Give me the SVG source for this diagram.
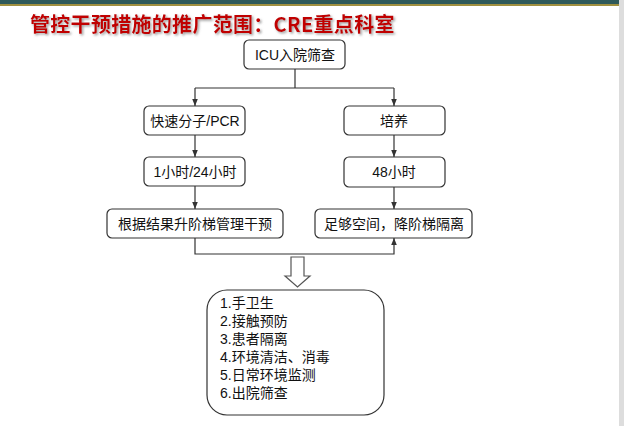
<svg xmlns="http://www.w3.org/2000/svg" width="624" height="426" viewBox="0 0 624 426">
<defs>
<style>
.b{fill:#fff;stroke:#333;stroke-width:1.2}
.t{font-family:"Liberation Sans","Noto Sans CJK SC",sans-serif;font-size:14px;fill:#111;text-anchor:middle}
.c{fill:none;stroke:#333;stroke-width:1.2}
</style>
<marker id="a" viewBox="0 0 10 10" refX="10" refY="5" markerWidth="6" markerHeight="6" orient="auto"><path d="M0,1L10,5L0,9z" fill="#333"/></marker>
<filter id="sh" x="-5%" y="-20%" width="110%" height="150%"><feDropShadow dx="1.5" dy="1.5" stdDeviation="0.8" flood-color="#888" flood-opacity="0.8"/></filter>
</defs>
<rect width="624" height="426" fill="#fff"/>
<rect width="624" height="4" fill="#2f5a5a"/>
<rect y="4" width="624" height="2" fill="#a09040"/>
<rect x="619" y="0" width="5" height="426" fill="#ddd"/>
<text x="30" y="32" font-family="'Noto Sans CJK SC',sans-serif" font-weight="bold" font-size="20" fill="#c00000" letter-spacing="0.3" filter="url(#sh)">管控干预措施的推广范围：CRE重点科室</text>
<g id="connectors">
<path class="c" d="M295,69V88"/>
<path class="c" d="M195,88H394"/>
<path class="c" d="M195,88V106" marker-end="url(#a)"/>
<path class="c" d="M394,88V106" marker-end="url(#a)"/>
<path class="c" d="M195,135V157" marker-end="url(#a)"/>
<path class="c" d="M394,135V157" marker-end="url(#a)"/>
<path class="c" d="M195,186V209" marker-end="url(#a)"/>
<path class="c" d="M394,187V209" marker-end="url(#a)"/>
<path class="c" d="M195,238V254H394V238" marker-end="url(#a)"/>
<path d="M291,257H304V276H310L297.5,287L285,276H291Z" fill="#fff" stroke="#555" stroke-width="1.2"/>
</g>
<g id="icu"><rect class="b" x="244" y="40" width="101" height="29" rx="5"/><text class="t" x="295" y="60">ICU入院筛查</text></g>
<g id="pcr"><rect class="b" x="144" y="106" width="101" height="29" rx="5"/><text class="t" x="195" y="126">快速分子/PCR</text></g>
<g id="culture"><rect class="b" x="344" y="106" width="101" height="29" rx="5"/><text class="t" x="394" y="126">培养</text></g>
<g id="h1"><rect class="b" x="144" y="157" width="101" height="29" rx="5"/><text class="t" x="195" y="177">1小时/24小时</text></g>
<g id="h48"><rect class="b" x="344" y="157" width="101" height="30" rx="5"/><text class="t" x="394" y="177">48小时</text></g>
<g id="up"><rect class="b" x="107" y="209" width="176" height="29" rx="5"/><text class="t" x="195" y="229">根据结果升阶梯管理干预</text></g>
<g id="down"><rect class="b" x="315" y="209" width="157" height="29" rx="5"/><text class="t" x="394" y="229">足够空间，降阶梯隔离</text></g>
<g id="measures"><rect class="b" x="207" y="290" width="177" height="125" rx="20"/>
<text font-family="'Liberation Sans','Noto Sans CJK SC',sans-serif" font-size="14" fill="#111">
<tspan x="220" y="308">1.手卫生</tspan><tspan x="220" y="326">2.接触预防</tspan><tspan x="220" y="344">3.患者隔离</tspan><tspan x="220" y="362">4.环境清洁、消毒</tspan><tspan x="220" y="380">5.日常环境监测</tspan><tspan x="220" y="398">6.出院筛查</tspan>
</text></g>
</svg>
